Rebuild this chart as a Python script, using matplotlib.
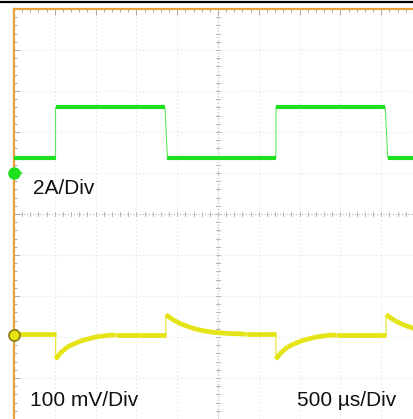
import numpy as np
import matplotlib
matplotlib.use("Agg")
import matplotlib.pyplot as plt
from matplotlib.lines import Line2D
from matplotlib.ticker import MultipleLocator

# ---------------- data ----------------
# time in microseconds (500 us/div, screen centre = 0)
i_time_us = [-2500, -1990, -1990, -650, -620, 710, 710, 2050, 2080, 2402]
i_amp = [0.75, 0.75, 3.2, 3.2, 0.75, 0.75, 3.2, 3.2, 0.75, 0.75]

v_time_us = [-2500, -1990, -1990, -1941, -1892, -1843, -1770, -1684, -1598, -1500,
             -1353, -1255, -640, -640, -542, -444, -346, -248, -89, 95, 340, 585,
             710, 710, 759, 808, 857, 930, 1016, 1102, 1200, 1347, 1445, 2060,
             2060, 2158, 2256, 2354, 2402]
v_mv = [2, 2, -59, -46, -37, -29, -22, -15, -10, -5,
        -1, 0, 0, 49, 36, 26, 19, 13, 7, 4, 2, 2,
        2, -59, -46, -37, -29, -22, -15, -10, -5, -1, 0, 0,
        49, 36, 26, 19, 16]

labels = ["2A/Div", "100 mV/Div", "500 µs/Div"]
ch1_scale_A = 2.0      # A per div
ch2_scale_mV = 100.0   # mV per div
ch1_offset_div = 1.0
ch2_offset_div = -2.95

# ---------------- figure ----------------
W, H = 414, 419
fig = plt.figure(figsize=(W / 100, H / 100), dpi=100)
fig.patch.set_facecolor("white")

left_px, top_px = 14, 9
ax = fig.add_axes([left_px / W, 0, (W - left_px) / W, (H - top_px) / H])
ax.set_xlim(-2500, 2402)
ax.set_ylim(-5, 5)
ax.set_facecolor("white")

# channel axes sharing x, own y scales so that ground markers line up
ax1 = ax.twinx()
ax1.set_ylim((-5 - ch1_offset_div) * ch1_scale_A, (5 - ch1_offset_div) * ch1_scale_A)
ax2 = ax.twinx()
ax2.set_ylim((-5 - ch2_offset_div) * ch2_scale_mV, (5 - ch2_offset_div) * ch2_scale_mV)
for a in (ax1, ax2):
    a.set_axis_off()

# grid (every division)
for xd in np.arange(-2500, 2500, 500):
    if xd == 0:
        continue
    ax.axvline(xd, color="#e0e0e0", lw=0.8, ls=(0, (1, 2.5)), zorder=0)
for yd in range(-4, 5):
    if yd == 0:
        continue
    ax.axhline(yd, color="#e0e0e0", lw=0.8, ls=(0, (1, 2.5)), zorder=0)
# centre lines with small ticks
ax.axvline(0, color="#bdbdbd", lw=0.9, ls=(0, (1, 1.5)), zorder=0)
ax.axhline(0, color="#bdbdbd", lw=0.9, ls=(0, (1, 1.5)), zorder=0)
for yy in np.arange(-5, 5.01, 0.2):
    ax.plot([-22, 22], [yy, yy], color="#b8b8b8", lw=0.7, zorder=0)
for xx in np.arange(-2500, 2500.1, 100):
    ax.plot([xx, xx], [-0.06, 0.06], color="#b8b8b8", lw=0.7, zorder=0)

# spines: orange left and top, ticks inward
for s in ("right", "bottom"):
    ax.spines[s].set_visible(False)
for s in ("left", "top"):
    ax.spines[s].set_color("#e8a23c")
    ax.spines[s].set_linewidth(1.6)
ax.xaxis.tick_top()
ax.xaxis.set_major_locator(MultipleLocator(500))
ax.xaxis.set_minor_locator(MultipleLocator(100))
ax.yaxis.set_major_locator(MultipleLocator(1))
ax.yaxis.set_minor_locator(MultipleLocator(0.2))
ax.tick_params(which="both", direction="in", colors="#a8a8a8", labelleft=False,
               labeltop=False, labelbottom=False, width=0.7)
ax.tick_params(which="major", length=4)
ax.tick_params(which="minor", length=2.5)

GREEN = "#1ee01e"
YELLOW = "#e4e414"


def draw_trace(axis, t, v, color, thick, thin, flat_only):
    axis.plot(t, v, color=color, lw=thin, alpha=0.8, solid_capstyle="butt", zorder=3)
    for k in range(len(t) - 1):
        if t[k + 1] > t[k] and (abs(v[k + 1] - v[k]) < 1e-9 or not flat_only):
            axis.plot(t[k:k + 2], v[k:k + 2], color=color, lw=thick,
                      solid_capstyle="butt", zorder=4)


draw_trace(ax1, i_time_us, i_amp, GREEN, 3.0, 0.7, True)
draw_trace(ax2, v_time_us, v_mv, YELLOW, 3.4, 0.9, False)

# ground markers
ax1.plot([-2500], [0], marker="o", ms=8, color=GREEN, clip_on=False, zorder=6)
ax1.plot([-2440], [0], marker=">", ms=6, color=GREEN, clip_on=False, zorder=6,
         markeredgewidth=0)
ax2.plot([-2500], [0], marker="o", ms=8, mfc=YELLOW, mec="#8a7a10", mew=1.2,
         clip_on=False, zorder=6)

# labels
font = dict(family="Liberation Sans", fontsize=15, color="#111111")
fig.text(33 / W, 1 - 188 / H, labels[0], va="center", ha="left", **font)
fig.text(30 / W, 1 - 400 / H, labels[1], va="center", ha="left", **font)
fig.text(297 / W, 1 - 400 / H, labels[2], va="center", ha="left", **font)

# black rule across the top
fig.add_artist(Line2D([0, 1], [1 - 2.5 / H, 1 - 2.5 / H], color="black", lw=1.6,
                      transform=fig.transFigure))

fig.savefig("out.png", dpi=100, facecolor="white")
